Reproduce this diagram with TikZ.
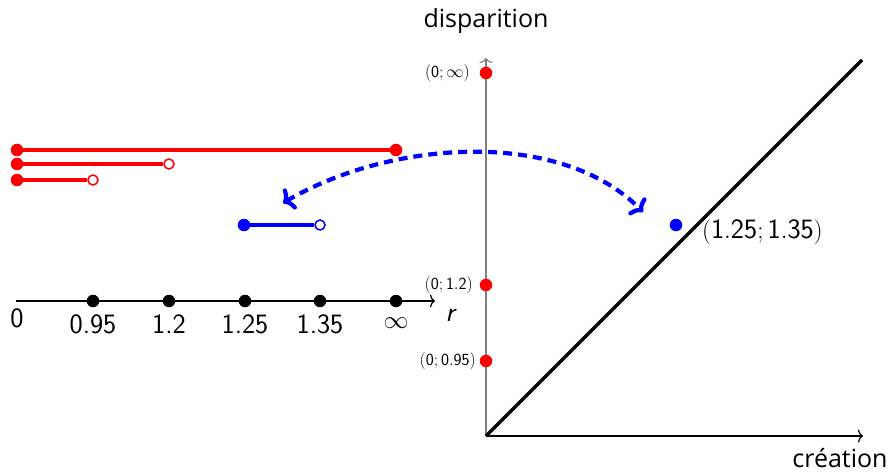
\documentclass[tikz,border=0pt]{standalone}
\usepackage{fontspec}
\newfontfamily\labfont{Open Sans}
\usetikzlibrary{arrows.meta}
\begin{document}
\begin{tikzpicture}[x=1pt,y=-1pt,
  big/.style={font=\fontsize{28}{32}\selectfont\sffamily, inner sep=0pt},
  small/.style={font=\fontsize{17}{20}\selectfont, inner sep=0pt, anchor=east},
  axlab/.style={font=\fontsize{25}{30}\selectfont\labfont, inner sep=0pt},
  fdot/.style={circle, fill=#1, inner sep=0pt, minimum size=12.5pt},
  fdot/.default=black,
  odot/.style={circle, draw=#1, fill=white, line width=1.5pt, inner sep=0pt, minimum size=10pt},
  bar/.style={line width=4pt},
  axis/.style={line width=1.2pt, -{Computer Modern Rightarrow[length=5pt,width=13pt]}},
  swap/.style={blue, line width=4.2pt, dash pattern=on 9pt off 6pt,
    {Computer Modern Rightarrow[length=10pt,width=24pt]}-{Computer Modern Rightarrow[length=10pt,width=24pt]}}
]
\useasboundingbox (0,0) rectangle (890,473);

% r axis
\coordinate (r0) at (16,301);
\coordinate (rend) at (435,301);
\draw[axis] (r0) -- (rend);
\node[fdot] (d1) at (93,301) {};
\node[fdot] (d2) at (169,301) {};
\node[fdot] (d3) at (245,301) {};
\node[fdot] (d4) at (320,301) {};
\node[fdot] (d5) at (396,301) {};
\node[big] (l0) at (17,318) {0};
\node[big] (l1) at (93,324) {0.95};
\node[big] (l2) at (169,324) {1.2};
\node[big] (l3) at (245,324) {1.25};
\node[big] (l4) at (320,324) {1.35};
\node[big] (l5) at (396,323) {$\infty$};
\node[big, font=\fontsize{28}{32}\selectfont\sffamily\itshape] (lr) at (450,315) {r};

% red intervals
\node[fdot=red] (a1) at (17,150) {};
\node[fdot=red] (a2) at (396,150) {};
\draw[red, bar] (a1) -- (a2);
\node[fdot=red] (b1) at (17,164) {};
\node[odot=red] (b2) at (169,164) {};
\draw[red, bar] (b1) -- (b2);
\node[fdot=red] (c1) at (17,180) {};
\node[odot=red] (c2) at (93,180) {};
\draw[red, bar] (c1) -- (c2);

% blue interval
\node[fdot=blue] (e1) at (244,225) {};
\node[odot=blue] (e2) at (320,225) {};
\draw[blue, bar] (e1) -- (e2);

% persistence diagram
\coordinate (O) at (486,436);
\coordinate (Ytop) at (486,58);
\coordinate (Xend) at (863,436);
\coordinate (Dtop) at (862,60);
\draw[axis, gray] (O) -- (Ytop);
\draw[axis] (O) -- (Xend);
\draw[line width=3.5pt] (O) -- (Dtop);
\node[axlab] (ly) at (486,21) {disparition};
\node[axlab] (lx) at (840,458) {création};

\node[fdot=red] (vinf) at (486,73) {};
\node[fdot=red] (v12) at (486,285) {};
\node[fdot=red] (v095) at (486,361) {};
\node[small] (tinf) at (470,73) {$(\mathsf{0};\infty)$};
\node[small] (t12) at (473,285) {$(\mathsf{0};\mathsf{1.2})$};
\node[small] (t095) at (476,361) {$(\mathsf{0};\mathsf{0.95})$};

\node[fdot=blue] (p) at (676,225) {};
\node[big, anchor=west] (tp) at (702,232) {$(\mathsf{1.25};\mathsf{1.35})$};

% swap arrow
\coordinate (s1) at (283,203);
\coordinate (s2) at (643,212);
\draw[swap] (s1) .. controls (390,140) and (560,128) .. (s2);
\end{tikzpicture}
\end{document}
